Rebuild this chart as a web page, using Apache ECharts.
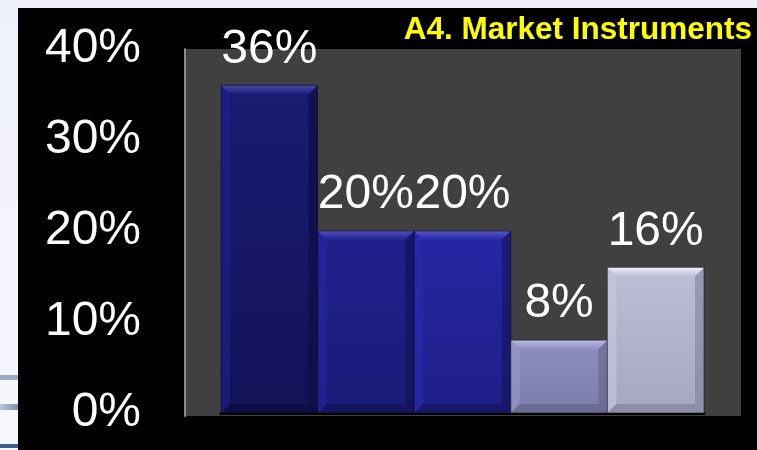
<!DOCTYPE html>
<html>
<head>
<meta charset="utf-8">
<script src="https://cdn.jsdelivr.net/npm/echarts@6/dist/echarts.min.js"></script>
<style>
  html, body { margin: 0; padding: 0; }
  body { width: 757px; height: 450px; position: relative; overflow: hidden;
         background: linear-gradient(180deg, #eef0fb 0%, #f4f5fc 60%, #f6f7fd 100%); }
  #black { position: absolute; left: 18px; top: 8px; width: 739px; height: 442px; background: #000; }
  .streak { position: absolute; left: 0; width: 18px; }
  #chart { position: absolute; left: 0; top: 0; width: 757px; height: 450px; }
</style>
</head>
<body>
<div class="streak" style="top:375px;height:5px;background:#9aaac6;"></div>
<div class="streak" style="top:404px;height:6px;background:linear-gradient(90deg,#b9c3d8,#7e92b6);"></div>
<div class="streak" style="top:444px;height:4px;background:#3d5d8d;"></div>
<div id="black"></div>
<div id="chart"></div>
<script>
// ---- data ----
const categories = ['Instrument 1', 'Instrument 2', 'Instrument 3', 'Instrument 4', 'Instrument 5'];
const values = [36, 20, 20, 8, 16];
const yMin = 0;
const yMax = 40;
const yStep = 10;
const titleText = 'A4. Market Instruments';

// ---- styling ----
const palette = [
  { top: '#1a1b72', bottom: '#121258', bevel: '#4a4ab8', side: '#20218a', dark: '#0b0b3c' },
  { top: '#20218e', bottom: '#1a1a78', bevel: '#5050c4', side: '#2626a0', dark: '#10104e' },
  { top: '#2626a4', bottom: '#1e1e88', bevel: '#5656cc', side: '#2c2cb0', dark: '#12125a' },
  { top: '#8f8fbe', bottom: '#7c7ca8', bevel: '#babaea', side: '#9a9ac8', dark: '#5e5e84' },
  { top: '#bdbdd6', bottom: '#a6a6bf', bevel: '#eeeefc', side: '#c8c8e0', dark: '#7c7c96' }
];
const FONT = '"Liberation Sans", Arial, sans-serif';

const chart = echarts.init(document.getElementById('chart'), null, { renderer: 'canvas' });

function renderBar(params, api) {
  const idx = api.value(0);
  const val = api.value(1);
  const topPt = api.coord([idx, val]);
  const basePt = api.coord([idx, 0]);
  const w = api.size([1, 0])[0];
  const x0 = topPt[0] - w / 2, x1 = topPt[0] + w / 2;
  const y0 = topPt[1], y1 = basePt[1];
  const b = Math.min(9, (y1 - y0) / 3);
  const c = palette[params.dataIndex % palette.length];
  return {
    type: 'group',
    children: [
      { type: 'rect', shape: { x: x0, y: y0, width: w, height: y1 - y0 },
        style: { fill: new echarts.graphic.LinearGradient(0, 0, 0, 1, [
          { offset: 0, color: c.top }, { offset: 1, color: c.bottom }]) } },
      { type: 'polygon', shape: { points: [[x0, y0], [x1, y0], [x1 - b, y0 + b], [x0 + b, y0 + b]] },
        style: { fill: new echarts.graphic.LinearGradient(0, 0, 0, 1, [
          { offset: 0, color: c.bevel }, { offset: 1, color: c.top }]) } },
      { type: 'polygon', shape: { points: [[x0, y0], [x0 + b, y0 + b], [x0 + b, y1 - b], [x0, y1]] },
        style: { fill: c.side, opacity: 0.6 } },
      { type: 'polygon', shape: { points: [[x1, y0], [x1, y1], [x1 - b, y1 - b], [x1 - b, y0 + b]] },
        style: { fill: c.dark, opacity: 0.55 } },
      { type: 'polygon', shape: { points: [[x0, y1], [x0 + b, y1 - b], [x1 - b, y1 - b], [x1, y1]] },
        style: { fill: c.dark, opacity: 0.6 } },
      { type: 'rect', shape: { x: x0, y: y0, width: w, height: y1 - y0 },
        style: { fill: 'none', stroke: 'rgba(0,0,0,0.45)', lineWidth: 1 } },
      { type: 'text', x: topPt[0], y: y0 - 12,
        style: { text: val + '%', fill: '#ffffff', font: '48px ' + FONT,
                 align: 'center', verticalAlign: 'bottom' } }
    ]
  };
}

chart.setOption({
  backgroundColor: 'transparent',
  animation: false,
  title: {
    text: titleText, right: 0, top: 9,
    textStyle: { color: '#ffff00', fontSize: 31.5, fontWeight: 'bold', fontFamily: FONT }
  },
  grid: [
    { left: 185, right: 16, top: 49, bottom: 34, show: true, backgroundColor: '#404040', borderWidth: 0 },
    { left: 221, right: 53, top: 49, bottom: 37 }
  ],
  xAxis: [
    { type: 'category', gridIndex: 0, data: categories, show: false },
    { type: 'category', gridIndex: 1, data: categories,
      axisLine: { show: true, lineStyle: { color: '#000', width: 3 } },
      axisTick: { show: false }, axisLabel: { show: false } }
  ],
  yAxis: [
    { type: 'value', gridIndex: 0, min: yMin, max: yMax, interval: yStep,
      axisLine: { show: true, lineStyle: { color: '#8a8a8a', width: 2 } },
      axisTick: { show: false }, axisLabel: { show: false }, splitLine: { show: false } },
    { type: 'value', gridIndex: 1, min: yMin, max: yMax, interval: yStep,
      axisLine: { show: false }, axisTick: { show: false }, splitLine: { show: false },
      axisLabel: { color: '#ffffff', fontSize: 48, fontFamily: FONT, margin: 80,
                   formatter: '{value}%' } }
  ],
  series: [{
    type: 'custom',
    xAxisIndex: 1, yAxisIndex: 1,
    data: values.map((v, i) => [i, v]),
    encode: { x: 0, y: 1 },
    renderItem: renderBar,
    clip: false,
    z: 3
  }]
});
</script>
</body>
</html>
